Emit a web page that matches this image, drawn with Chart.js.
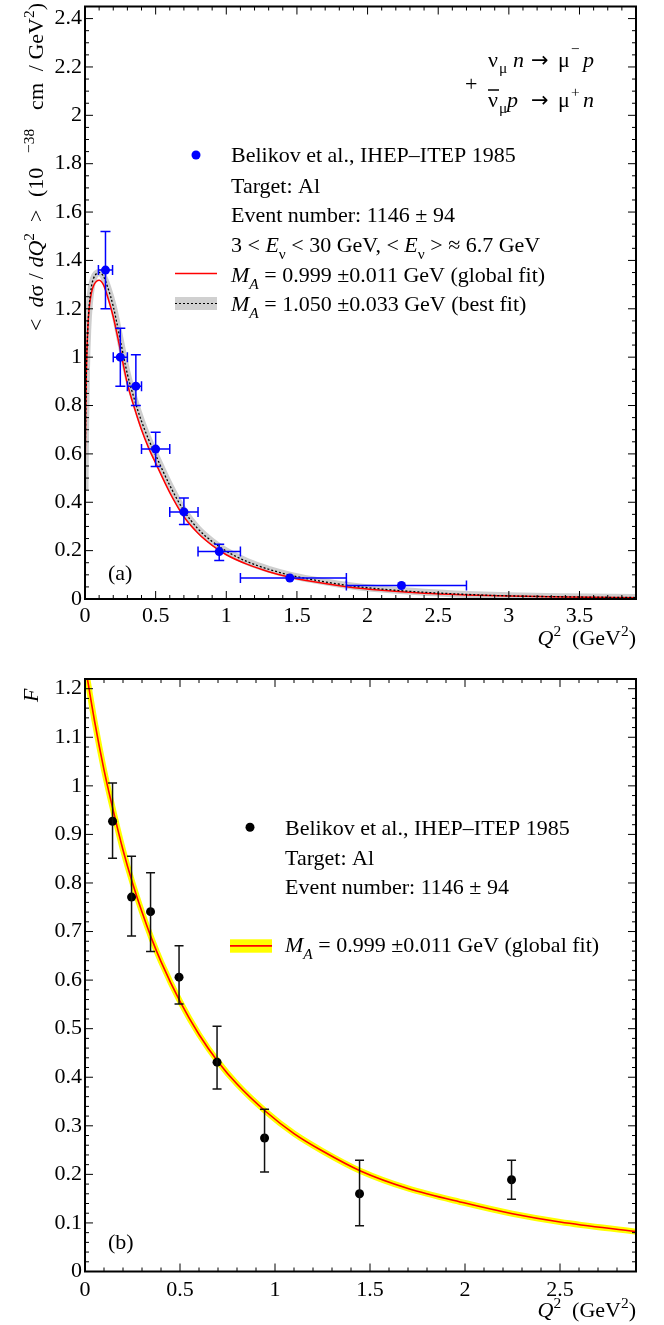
<!DOCTYPE html>
<html lang="en">
<head>
<meta charset="UTF-8">
<title>Belikov et al., IHEP-ITEP 1985 (Al)</title>
<script src="https://cdn.jsdelivr.net/npm/chart.js@4.4.1/dist/chart.umd.min.js"></script>
<style>
  html, body { margin: 0; padding: 0; background: #fff; }
  #wrap { position: relative; width: 664px; height: 1325px; }
  canvas { position: absolute; left: 0; }
  #chartA { top: 0; }
  #chartB { top: 655px; }
</style>
</head>
<body>
<div id="wrap">
  <canvas id="chartA" width="664" height="655"></canvas>
  <canvas id="chartB" width="664" height="670"></canvas>
</div>
<script>
const FONT = '"Liberation Serif", "Times New Roman", serif';
const FS = 22;

// ---- panel (a): <dsigma/dQ2> ----
const q2A      = [0.145, 0.25, 0.36, 0.5, 0.7, 0.95, 1.45, 2.24];
const q2LowA   = [0.095, 0.2, 0.3, 0.4, 0.6, 0.8, 1.1, 1.85];
const q2HighA  = [0.195, 0.3, 0.4, 0.6, 0.8, 1.1, 1.85, 2.7];
const xsecA    = [1.36, 1.0, 0.88, 0.62, 0.36, 0.196, 0.087, 0.056];
const xsecLowA = [1.2, 0.88, 0.8, 0.548, 0.308, 0.159, 0.073, 0.053];
const xsecHighA= [1.52, 1.12, 1.01, 0.689, 0.418, 0.226, 0.1, 0.059];

const curveQ2A  = [0, 0.005, 0.01, 0.02, 0.03, 0.045, 0.06, 0.08, 0.1, 0.13, 0.16, 0.2, 0.25, 0.3, 0.35, 0.4, 0.45, 0.5, 0.6, 0.7, 0.8, 0.9, 1.0, 1.15, 1.3, 1.45, 1.6, 1.85, 2.1, 2.4, 2.7, 3.0, 3.4, 3.9];
const globalFitA = [0.45, 0.76, 0.95, 1.12, 1.205, 1.265, 1.295, 1.313, 1.318, 1.30, 1.25, 1.167, 1.03, 0.89, 0.79, 0.70, 0.625, 0.562, 0.44, 0.34, 0.272, 0.222, 0.183, 0.143, 0.113, 0.09, 0.073, 0.051, 0.036, 0.024, 0.017, 0.012, 0.008, 0.005];
const bestFitA   = [0.45, 0.75, 0.94, 1.12, 1.215, 1.29, 1.325, 1.345, 1.35, 1.335, 1.29, 1.21, 1.07, 0.93, 0.825, 0.735, 0.66, 0.595, 0.47, 0.365, 0.29, 0.238, 0.198, 0.154, 0.123, 0.099, 0.081, 0.057, 0.041, 0.028, 0.019, 0.013, 0.009, 0.006];

const xTicksA = [0, 0.5, 1, 1.5, 2, 2.5, 3, 3.5];
const xTickLabelsA = ['0', '0.5', '1', '1.5', '2', '2.5', '3', '3.5'];
const yTicksA = [0, 0.2, 0.4, 0.6, 0.8, 1, 1.2, 1.4, 1.6, 1.8, 2, 2.2, 2.4];
const yTickLabelsA = ['0', '0.2', '0.4', '0.6', '0.8', '1', '1.2', '1.4', '1.6', '1.8', '2', '2.2', '2.4'];

// ---- panel (b): F ----
const q2B    = [0.145, 0.245, 0.345, 0.495, 0.695, 0.945, 1.445, 2.245];
const fB     = [0.927, 0.771, 0.741, 0.606, 0.431, 0.275, 0.16, 0.189];
const fLowB  = [0.851, 0.691, 0.659, 0.551, 0.376, 0.205, 0.094, 0.149];
const fHighB = [1.006, 0.855, 0.821, 0.671, 0.505, 0.334, 0.229, 0.229];

const curveQ2B   = [0, 0.05, 0.1, 0.15, 0.2, 0.25, 0.3, 0.35, 0.4, 0.5, 0.6, 0.7, 0.8, 0.95, 1.1, 1.25, 1.45, 1.7, 2.0, 2.25, 2.5, 2.9];
const globalFitB = [1.25, 1.134, 1.033, 0.947, 0.868, 0.80, 0.74, 0.686, 0.638, 0.556, 0.488, 0.432, 0.386, 0.33, 0.284, 0.248, 0.207, 0.171, 0.141, 0.119, 0.102, 0.082];

const xTicksB = [0, 0.5, 1, 1.5, 2, 2.5];
const xTickLabelsB = ['0', '0.5', '1', '1.5', '2', '2.5'];
const yTicksB = [0, 0.1, 0.2, 0.3, 0.4, 0.5, 0.6, 0.7, 0.8, 0.9, 1, 1.1, 1.2];
const yTickLabelsB = ['0', '0.1', '0.2', '0.3', '0.4', '0.5', '0.6', '0.7', '0.8', '0.9', '1', '1.1', '1.2'];

function pts(xs, ys) { return xs.map((x, i) => ({ x: x, y: ys[i] })); }

// rich text: segments [text, style]; style: i (italic), sub, sup, isub
function rich(ctx, x, y, segs, size, measureOnly) {
  let cx = x;
  segs.forEach(s => {
    const txt = s[0], st = s[1] || '';
    const small = st.indexOf('sub') >= 0 || st.indexOf('sup') >= 0;
    const italic = st === 'i' || st.indexOf('isub') >= 0 || st.indexOf('isup') >= 0;
    ctx.font = (italic ? 'italic ' : '') + (small ? size * 0.7 : size) + 'px ' + FONT;
    let dy = 0;
    if (st.indexOf('sub') >= 0) dy = size * 0.3;
    if (st.indexOf('sup') >= 0) dy = -size * 0.42;
    if (!measureOnly) ctx.fillText(txt, cx, y + dy);
    cx += ctx.measureText(txt).width;
  });
  return cx - x;
}

function drawFrame(chart, xMinor, xMajor, yMinor, yMajor) {
  const { ctx, chartArea: a, scales: { x, y } } = chart;
  ctx.save();
  ctx.strokeStyle = '#000';
  ctx.lineWidth = 1;
  ctx.beginPath();
  const nx = Math.round(x.max / xMinor);
  for (let k = 0; k <= nx; k++) {
    const v = k * xMinor;
    const px = x.getPixelForValue(v);
    const major = Math.abs(v / xMajor - Math.round(v / xMajor)) < 1e-6;
    const len = major ? 8 : 4;
    ctx.moveTo(px, a.bottom); ctx.lineTo(px, a.bottom - len);
    ctx.moveTo(px, a.top); ctx.lineTo(px, a.top + len);
  }
  const ny = Math.round(y.max / yMinor);
  for (let k = 0; k <= ny; k++) {
    const v = k * yMinor;
    const py = y.getPixelForValue(v);
    const major = Math.abs(v / yMajor - Math.round(v / yMajor)) < 1e-6;
    const len = major ? 8 : 4;
    ctx.moveTo(a.left, py); ctx.lineTo(a.left + len, py);
    ctx.moveTo(a.right, py); ctx.lineTo(a.right - len, py);
  }
  ctx.stroke();
  ctx.lineWidth = 2;
  ctx.strokeRect(a.left, a.top, a.right - a.left, a.bottom - a.top);
  ctx.restore();
}

function drawErrors(chart, xs, ys, yLo, yHi, xLo, xHi, color, cap) {
  const { ctx, chartArea: a, scales: { x, y } } = chart;
  const r = 4.5;
  ctx.save();
  ctx.beginPath();
  ctx.rect(a.left, a.top, a.right - a.left, a.bottom - a.top);
  ctx.clip();
  ctx.strokeStyle = color;
  ctx.lineWidth = 1.5;
  xs.forEach((xv, i) => {
    const px = x.getPixelForValue(xv), py = y.getPixelForValue(ys[i]);
    const top = y.getPixelForValue(yHi[i]), bot = y.getPixelForValue(yLo[i]);
    ctx.beginPath();
    if (py - top > r) {
      ctx.moveTo(px, py); ctx.lineTo(px, top);
      ctx.moveTo(px - cap, top); ctx.lineTo(px + cap, top);
    }
    if (bot - py > r) {
      ctx.moveTo(px, py); ctx.lineTo(px, bot);
      ctx.moveTo(px - cap, bot); ctx.lineTo(px + cap, bot);
    }
    if (xLo) {
      const l = x.getPixelForValue(xLo[i]), rr = x.getPixelForValue(xHi[i]);
      ctx.moveTo(l, py); ctx.lineTo(rr, py);
      ctx.moveTo(l, py - cap); ctx.lineTo(l, py + cap);
      ctx.moveTo(rr, py - cap); ctx.lineTo(rr, py + cap);
    }
    ctx.stroke();
  });
  ctx.restore();
}

function xTitle(ctx, baseline) {
  const segs = [['Q', 'i'], ['2', 'sup'], ['  (GeV', ''], ['2', 'sup'], [')', '']];
  const w = rich(ctx, 0, 0, segs, FS, true);
  rich(ctx, 636 - w, baseline, segs, FS);
}

function scaleOpts(min, max, ticks, labels, size, pad, vertical) {
  return {
    type: 'linear', min: min, max: max,
    afterBuildTicks: s => { s.ticks = ticks.map(v => ({ value: v })); },
    afterFit: s => {
      if (vertical) s.width = size; else s.height = size;
      s.paddingTop = 0; s.paddingBottom = 0; s.paddingLeft = 0; s.paddingRight = 0;
    },
    grid: { display: false, drawTicks: false },
    border: { display: false },
    ticks: {
      autoSkip: false, maxRotation: 0, minRotation: 0, padding: pad, color: '#000',
      font: { family: FONT, size: FS },
      callback: (v, i) => labels[i]
    }
  };
}

function arrow(ctx, x, y) {
  ctx.font = '21px "DejaVu Sans", sans-serif';
  ctx.fillText('→', x, y);
}

const annotateA = {
  id: 'annotateA',
  afterDatasetsDraw(chart) {
    drawErrors(chart, q2A, xsecA, xsecLowA, xsecHighA, q2LowA, q2HighA, '#0000ff', 5);
  },
  afterDraw(chart) {
    const ctx = chart.ctx;
    drawFrame(chart, 0.1, 0.5, 0.05, 0.2);
    ctx.save();
    ctx.fillStyle = '#000';
    ctx.textBaseline = 'alphabetic';

    // y title (rotated), pieces spread like the original
    ctx.save();
    ctx.translate(43, 0);
    ctx.rotate(-Math.PI / 2);
    rich(ctx, -331, 0, [['<  ', ''], ['d', 'i'], ['σ / ', ''], ['d', 'i'], ['Q', 'i'], ['2', 'sup'], ['  >', '']], FS);
    rich(ctx, -197, 0, [['(10', '']], FS);
    rich(ctx, -153, 0, [['−38', 'sup']], FS);
    const segCm = [['cm', '']];
    const wCm = rich(ctx, 0, 0, segCm, FS, true);
    rich(ctx, -83 - wCm, 0, segCm, FS);
    const segC = [['/ GeV', ''], ['2', 'sup'], [')', '']];
    const wC = rich(ctx, 0, 0, segC, FS, true);
    rich(ctx, -3 - wC, 0, segC, FS);
    ctx.restore();

    xTitle(ctx, 645);
    ctx.font = FS + 'px ' + FONT;
    ctx.fillText('(a)', 108, 580);

    // reaction
    const rs = FS, sm = FS * 0.7;
    ctx.font = rs + 'px ' + FONT;
    ctx.fillText('ν', 488, 67);
    ctx.fillText('μ', 558, 67);
    arrow(ctx, 531, 67);
    ctx.font = sm + 'px ' + FONT;
    ctx.fillText('μ', 499, 73);
    ctx.fillText('−', 571, 54);
    ctx.font = 'italic ' + rs + 'px ' + FONT;
    ctx.fillText('n', 513, 67);
    ctx.fillText('p', 583, 67);
    ctx.font = rs + 'px ' + FONT;
    ctx.fillText('+', 465, 91);
    ctx.fillText('ν', 488, 107);
    ctx.fillText('μ', 558, 107);
    arrow(ctx, 531, 107);
    ctx.font = sm + 'px ' + FONT;
    ctx.fillText('μ', 499, 113);
    ctx.fillText('+', 571, 97);
    ctx.font = 'italic ' + rs + 'px ' + FONT;
    ctx.fillText('p', 507, 107);
    ctx.fillText('n', 583, 107);
    ctx.strokeStyle = '#000';
    ctx.lineWidth = 1.5;
    ctx.beginPath(); ctx.moveTo(488, 90); ctx.lineTo(499, 90); ctx.stroke();

    // legend
    ctx.fillStyle = '#0000ff';
    ctx.beginPath(); ctx.arc(196, 155, 4.5, 0, Math.PI * 2); ctx.fill();
    ctx.strokeStyle = '#ff0000';
    ctx.lineWidth = 1.5;
    ctx.beginPath(); ctx.moveTo(175, 273.5); ctx.lineTo(217, 273.5); ctx.stroke();
    ctx.fillStyle = '#d0d0d0';
    ctx.fillRect(175, 297, 42, 13);
    ctx.strokeStyle = '#000';
    ctx.lineWidth = 1.2;
    ctx.setLineDash([2, 2]);
    ctx.beginPath(); ctx.moveTo(175, 303.5); ctx.lineTo(217, 303.5); ctx.stroke();
    ctx.setLineDash([]);
    ctx.fillStyle = '#000';
    const lx = 231;
    rich(ctx, lx, 162, [['Belikov et al., IHEP–ITEP 1985', '']], FS);
    rich(ctx, lx, 193, [['Target: Al', '']], FS);
    rich(ctx, lx, 222, [['Event number: 1146 ± 94', '']], FS);
    rich(ctx, lx, 252, [['3 < ', ''], ['E', 'i'], ['ν', 'sub'], [' < 30 GeV, < ', ''], ['E', 'i'], ['ν', 'sub'], [' > ≈ 6.7 GeV', '']], FS);
    rich(ctx, lx, 282, [['M', 'i'], ['A', 'isub'], [' = 0.999 ±0.011 GeV (global fit)', '']], FS);
    rich(ctx, lx, 311, [['M', 'i'], ['A', 'isub'], [' = 1.050 ±0.033 GeV (best fit)', '']], FS);
    ctx.restore();
  }
};

const annotateB = {
  id: 'annotateB',
  afterDatasetsDraw(chart) {
    drawErrors(chart, q2B, fB, fLowB, fHighB, null, null, '#111', 4.5);
  },
  afterDraw(chart) {
    const ctx = chart.ctx;
    drawFrame(chart, 0.1, 0.5, 0.02, 0.1);
    ctx.save();
    ctx.fillStyle = '#000';
    ctx.textBaseline = 'alphabetic';
    ctx.save();
    ctx.translate(38, 47);
    ctx.rotate(-Math.PI / 2);
    rich(ctx, 0, 0, [['F', 'i']], FS);
    ctx.restore();

    xTitle(ctx, 662);
    ctx.font = FS + 'px ' + FONT;
    ctx.fillText('(b)', 108, 594);

    // legend
    ctx.beginPath(); ctx.arc(250, 172.3, 4.5, 0, Math.PI * 2); ctx.fill();
    ctx.fillStyle = '#ffff00';
    ctx.fillRect(230, 284.3, 42, 13.4);
    ctx.strokeStyle = '#ff0000';
    ctx.lineWidth = 1.8;
    ctx.beginPath(); ctx.moveTo(230, 290.9); ctx.lineTo(272, 290.9); ctx.stroke();
    ctx.fillStyle = '#000';
    const lx = 285;
    rich(ctx, lx, 180, [['Belikov et al., IHEP–ITEP 1985', '']], FS);
    rich(ctx, lx, 209.5, [['Target: Al', '']], FS);
    rich(ctx, lx, 239, [['Event number: 1146 ± 94', '']], FS);
    rich(ctx, lx, 297, [['M', 'i'], ['A', 'isub'], [' = 0.999 ±0.011 GeV (global fit)', '']], FS);
    ctx.restore();
  }
};

const lineDefaults = { showLine: true, pointRadius: 0, pointHoverRadius: 0, cubicInterpolationMode: 'monotone', clip: 0, fill: false };

new Chart(document.getElementById('chartA'), {
  type: 'scatter',
  data: {
    datasets: [
      { label: 'Belikov et al., IHEP-ITEP 1985', data: pts(q2A, xsecA), pointRadius: 4.5, pointBorderWidth: 0,
        backgroundColor: '#0000ff', borderColor: '#0000ff', order: 0 },
      Object.assign({ label: 'MA = 1.050 (best fit)', data: pts(curveQ2A, bestFitA), borderColor: '#000',
        borderWidth: 1.3, borderDash: [2, 2], order: 1 }, lineDefaults),
      Object.assign({ label: 'MA = 0.999 (global fit)', data: pts(curveQ2A, globalFitA), borderColor: '#ff0000',
        borderWidth: 1.5, order: 2 }, lineDefaults),
      Object.assign({ label: 'best fit band', data: pts(curveQ2A, bestFitA), borderColor: 'rgba(190,190,190,0.75)',
        borderWidth: 7, order: 3 }, lineDefaults)
    ]
  },
  options: {
    responsive: false, animation: false, devicePixelRatio: 1,
    layout: { padding: { left: 0, right: 28, top: 6.5, bottom: 0 } },
    plugins: { legend: { display: false }, tooltip: { enabled: false } },
    scales: {
      x: scaleOpts(0, 3.9, xTicksA, xTickLabelsA, 56, 4, false),
      y: scaleOpts(0, 2.45, yTicksA, yTickLabelsA, 85, 3, true)
    }
  },
  plugins: [annotateA]
});

new Chart(document.getElementById('chartB'), {
  type: 'scatter',
  data: {
    datasets: [
      { label: 'Belikov et al., IHEP-ITEP 1985', data: pts(q2B, fB), pointRadius: 4.5, pointBorderWidth: 0,
        backgroundColor: '#000', borderColor: '#000', order: 0 },
      Object.assign({ label: 'MA = 0.999 (global fit)', data: pts(curveQ2B, globalFitB), borderColor: '#ff0000',
        borderWidth: 1.6, order: 1 }, lineDefaults),
      Object.assign({ label: 'global fit band', data: pts(curveQ2B, globalFitB), borderColor: '#ffff00',
        borderWidth: 6, order: 2 }, lineDefaults)
    ]
  },
  options: {
    responsive: false, animation: false, devicePixelRatio: 1,
    layout: { padding: { left: 0, right: 28, top: 24, bottom: 0 } },
    plugins: { legend: { display: false }, tooltip: { enabled: false } },
    scales: {
      x: scaleOpts(0, 2.9, xTicksB, xTickLabelsB, 53.5, 6, false),
      y: scaleOpts(0, 1.22, yTicksB, yTickLabelsB, 85, 3, true)
    }
  },
  plugins: [annotateB]
});
</script>
</body>
</html>
